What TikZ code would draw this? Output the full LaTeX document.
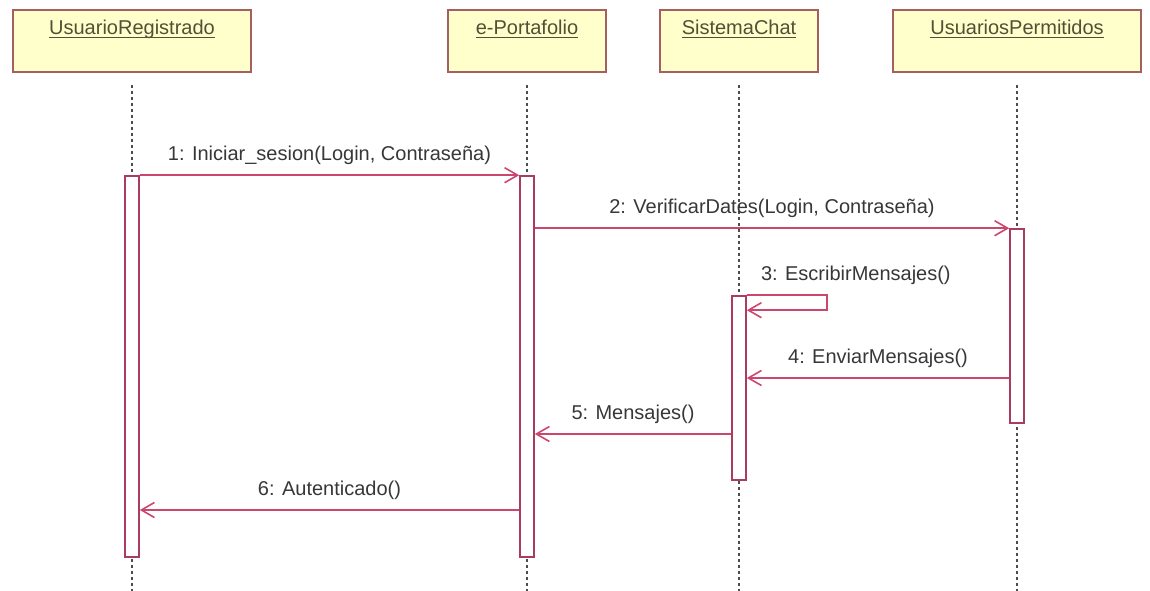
\documentclass[tikz,border=0pt]{standalone}
\usepackage{fontspec}
\setmainfont{Liberation Sans}
\usetikzlibrary{arrows.meta}
\definecolor{msgc}{RGB}{205,70,110}
\definecolor{boxb}{RGB}{165,95,95}
\definecolor{boxf}{RGB}{255,255,204}
\definecolor{actb}{RGB}{170,60,95}
\definecolor{txtc}{RGB}{55,55,55}
\definecolor{ttlc}{RGB}{80,80,55}
\newcommand\undl[1]{\setbox0\hbox{#1}\rlap{\rule[-3.5pt]{\wd0}{1.2pt}}\box0}
\begin{document}
\begin{tikzpicture}[x=1pt,y=-1pt,
  obj/.style={draw=boxb, fill=boxf, line width=1.6pt, minimum height=62pt, inner sep=0pt},
  ttl/.style={text=ttlc, font=\fontsize{20}{24}\selectfont, anchor=base, inner sep=0pt},
  life/.style={draw=black!70, dash pattern=on 3pt off 3pt, line width=1.5pt},
  act/.style={draw=actb, fill=white, line width=1.6pt, minimum width=14pt, inner sep=0pt},
  msg/.style={draw=msgc, line width=1.6pt, -{Straight Barb[length=13pt,width=15pt,line width=1.6pt]}},
  lbl/.style={text=txtc, font=\fontsize{20}{24}\selectfont, anchor=base, inner sep=0pt}]
\useasboundingbox (0,0) rectangle (1150,591);
\coordinate (bot) at (0,591);
% objects
\node[obj, minimum width=238pt] (u) at (132,41) {};
\node[obj, minimum width=158pt] (e) at (527,41) {};
\node[obj, minimum width=158pt] (s) at (739,41) {};
\node[obj, minimum width=248pt] (p) at (1017,41) {};
\node[ttl] (ut) at ([yshift=-25.5pt]u.north) {\undl{UsuarioRegistrado}};
\node[ttl] (et) at ([yshift=-25.5pt]e.north) {\undl{e-Portafolio}};
\node[ttl] (st) at ([yshift=-25.5pt]s.north) {\undl{SistemaChat}};
\node[ttl] (pt) at ([yshift=-25.5pt]p.north) {\undl{UsuariosPermitidos}};
% lifelines
\draw[life] ([yshift=-12pt]u.south) -- (u.south |- bot);
\draw[life] ([yshift=-12pt]e.south) -- (e.south |- bot);
\draw[life] ([yshift=-12pt]s.south) -- (s.south |- bot);
\draw[life] ([yshift=-12pt]p.south) -- (p.south |- bot);
% activations
\node[act, minimum height=381pt] (a1) at (132,366.5) {};
\node[act, minimum height=381pt] (a2) at (527,366.5) {};
\node[act, minimum height=184pt] (a3) at (739,388) {};
\node[act, minimum height=194pt] (a4) at (1017,326) {};
% messages
\coordinate (m4) at (0,378);
\coordinate (m5) at (0,434);
\coordinate (m6) at (0,510);
\draw[msg] (a1.north east) -- node[lbl, yshift=15pt] {1: Iniciar\_sesion(Login, Contraseña)} (a2.north west);
\draw[msg] (a2.east |- a4.north) -- node[lbl, yshift=15pt] {2: VerificarDates(Login, Contraseña)} (a4.north west);
\draw[msg] (a3.north east) -- ++(80,0) -- ++(0,15) -- ++(-80,0);
\node[lbl, anchor=base west] (l3) at ([xshift=14pt,yshift=15pt]a3.north east) {3: EscribirMensajes()};
\draw[msg] (a4.west |- m4) -- node[lbl, yshift=15pt] {4: EnviarMensajes()} (a3.east |- m4);
\draw[msg] (a3.west |- m5) -- node[lbl, yshift=15pt] {5: Mensajes()} (a2.east |- m5);
\draw[msg] (a2.west |- m6) -- node[lbl, yshift=15pt] {6: Autenticado()} (a1.east |- m6);
\end{tikzpicture}
\end{document}
